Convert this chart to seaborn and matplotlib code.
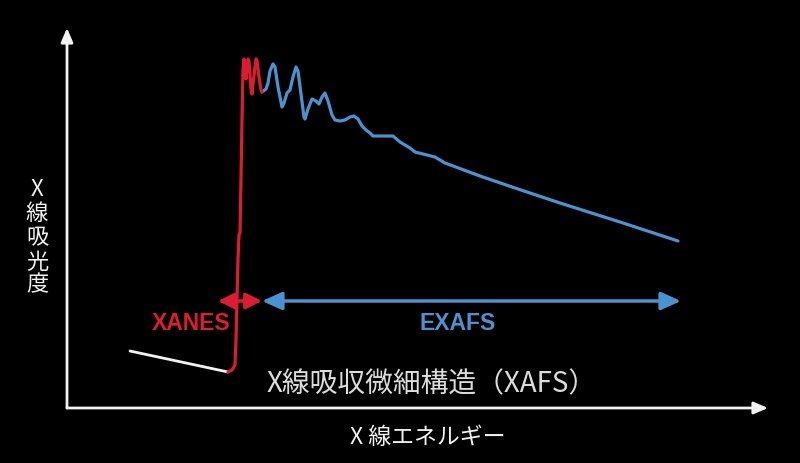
import matplotlib
matplotlib.use("Agg")
import matplotlib.pyplot as plt
import seaborn as sns
import pandas as pd

# ---- data (energy / absorbance, arbitrary units) ----
pre_energy = [63, 161]
pre_absorb = [56, 35]

xanes_energy = [161, 165, 168, 169, 170, 171, 172, 173, 174, 175, 176, 177, 178, 179, 180, 181, 182,
                183, 184, 185, 186, 188, 189, 190, 192, 194, 195]
xanes_absorb = [35, 37, 42, 68, 108, 148, 172, 174, 228, 288, 338, 348, 338, 328, 338, 348, 346,
                333, 318, 313, 323, 340, 348, 346, 330, 317, 315]

exafs_energy = [195, 199, 201, 203, 206, 208, 211, 215, 217, 220, 223, 226, 229, 231, 234, 237, 238,
                241, 245, 249, 252, 255, 258, 261, 265, 268, 273, 278, 283, 287, 291, 295, 299, 303,
                306, 313, 326, 333, 343, 348, 368, 378, 413, 448, 493, 553, 611]
exafs_absorb = [315, 318, 324, 336, 343, 340, 320, 300, 304, 314, 317, 330, 340, 336, 313, 290, 288,
                298, 308, 306, 303, 310, 314, 306, 292, 287, 286, 287, 290, 291, 288, 281, 277, 274,
                271, 271, 271, 265, 259, 255, 250, 244, 231, 219, 204, 185, 166]

xanes_span = [151, 195]
exafs_span = [195, 614]
arrow_level = 106

label_y = "X線吸光度"
label_x = "X 線エネルギー"
title_txt = "X線吸収微細構造（XAFS）"

RED = "#dc1c30"
BLUE = "#4a93d0"
WHITE = "#f2f2f2"

sns.set_theme(style="dark")
plt.rcParams['font.family'] = ['Noto Sans CJK JP', 'DejaVu Sans']

fig = plt.figure(figsize=(8, 4.64), dpi=100, facecolor="black")
ax = fig.add_axes([0, 0, 1, 1])
ax.set_facecolor("black")
ax.set_xlim(-67, 733)
ax.set_ylim(-56, 408)
ax.axis("off")

pre_df = pd.DataFrame({"E": pre_energy, "A": pre_absorb})
xa_df = pd.DataFrame({"E": xanes_energy, "A": xanes_absorb})
ex_df = pd.DataFrame({"E": exafs_energy, "A": exafs_absorb})

sns.lineplot(data=pre_df, x="E", y="A", ax=ax, color=WHITE, lw=2.0, sort=False, estimator=None)
sns.lineplot(data=ex_df, x="E", y="A", ax=ax, color=BLUE, lw=2.3, sort=False, estimator=None)
sns.lineplot(data=xa_df, x="E", y="A", ax=ax, color=RED, lw=2.3, sort=False, estimator=None)

# axes arrows
ax.annotate("", xy=(0, 379), xytext=(0, -1),
            arrowprops=dict(arrowstyle="-|>,head_length=0.7,head_width=0.3", color=WHITE, lw=2,
                            shrinkA=0, shrinkB=0))
ax.annotate("", xy=(701, -1), xytext=(0, -1),
            arrowprops=dict(arrowstyle="-|>,head_length=0.7,head_width=0.3", color=WHITE, lw=2,
                            shrinkA=0, shrinkB=0))

# region arrows
ax.annotate("", xy=(xanes_span[0], arrow_level), xytext=(xanes_span[1], arrow_level),
            arrowprops=dict(arrowstyle="<|-|>,head_length=0.8,head_width=0.4", color=RED, lw=2.5,
                            shrinkA=0, shrinkB=0))
ax.annotate("", xy=(exafs_span[0], arrow_level), xytext=(exafs_span[1], arrow_level),
            arrowprops=dict(arrowstyle="<|-|>,head_length=1.0,head_width=0.45", color=BLUE, lw=2.5,
                            shrinkA=0, shrinkB=0))

ax.text(124, 85, "XANES", color=RED, fontsize=16.5, fontweight="bold",
        family=["Liberation Sans", "DejaVu Sans"], ha="center", va="center")
ax.text(391, 85, "EXAFS", color=BLUE, fontsize=16.5, fontweight="bold",
        family=["Liberation Sans", "DejaVu Sans"], ha="center", va="center")

ax.text(365, 24, title_txt, color="#dcdcdc", fontsize=20, ha="center", va="center")
ax.text(361, -29, label_x, color=WHITE, fontsize=16.5, ha="center", va="center")

ys = [218, 195, 170, 146, 123]
for ch, yy in zip(label_y, ys):
    ax.text(-30, yy, ch, color=WHITE, fontsize=16, ha="center", va="center")

fig.savefig("out.png", dpi=100, facecolor="black")
